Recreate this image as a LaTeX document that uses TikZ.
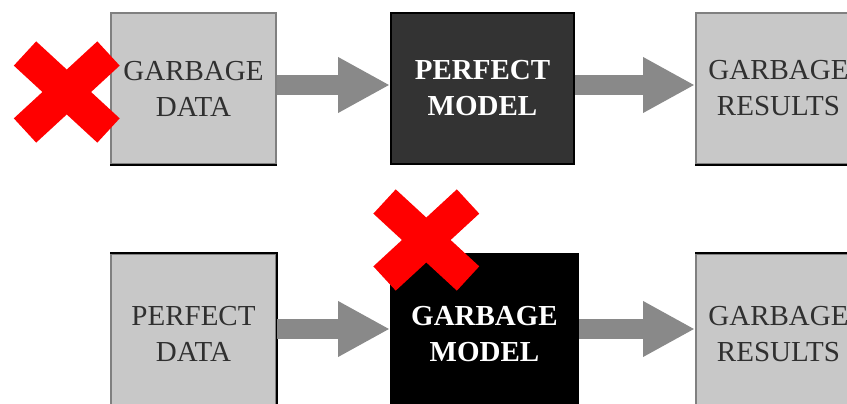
\documentclass[tikz,border=0pt]{standalone}
\usepackage{fontspec}
\setmainfont{Liberation Serif}
\usetikzlibrary{arrows.meta}
\definecolor{boxgray}{HTML}{C8C8C8}
\definecolor{edgegray}{HTML}{808080}
\definecolor{textgray}{HTML}{303030}
\definecolor{darkfill}{HTML}{333333}
\definecolor{arrowgray}{HTML}{898989}
\definecolor{crossred}{HTML}{FF0000}
\begin{document}
\begin{tikzpicture}[x=1pt,y=-1pt,
  box/.style={rectangle, inner sep=0pt, anchor=north west, align=center,
    line width=2pt, font=\fontsize{29}{36}\selectfont},
  lightbox/.style={box, fill=boxgray, draw=edgegray, text=textgray,
    minimum width=165pt},
  darkbox/.style={box, draw=black, text=white,
    font=\fontsize{29}{36}\selectfont\bfseries},
  flow/.style={draw=arrowgray, line width=20pt,
    -{Triangle[length=52pt,width=52pt]}},
  crossbar/.style={draw=crossred, line width=33pt, line cap=butt},
  blackedge/.style={draw=black, line width=2pt}
]
\useasboundingbox (0,0) rectangle (847,404);
\clip (0,0) rectangle (847,404);

% upper chain
\node[lightbox, minimum height=151pt] (gd) at (110,12) {GARBAGE\\DATA};
\node[darkbox, fill=darkfill, minimum width=183pt, minimum height=151pt] (pm) at (390,12) {PERFECT\\MODEL};
\node[lightbox, minimum height=151pt] (gr1) at (695,12) {GARBAGE\\RESULTS};
\draw[blackedge] (gd.south west) -- (gd.south east);
\draw[blackedge] (gr1.south west) -- (gr1.south east);
\draw[flow] ([yshift=3.5pt]gd.east) -- ([yshift=3.5pt]pm.west);
\draw[flow] ([yshift=3.5pt]pm.east) -- ([yshift=3.5pt]gr1.west);

% lower chain
\node[lightbox, minimum height=160pt] (pd) at (110,253) {PERFECT\\DATA};
\node[darkbox, fill=black, minimum width=187pt, minimum height=160pt] (gm) at (390,253) {GARBAGE\\MODEL};
\node[lightbox, minimum height=160pt] (gr2) at (695,253) {GARBAGE\\RESULTS};
\draw[blackedge] (pd.north west) -- (pd.north east) -- (pd.south east);
\draw[blackedge] (gr2.north west) -- (gr2.north east);
\draw[flow] ([yshift=5pt]pd.east) -- ([yshift=5pt]gm.west);
\draw[flow] ([yshift=5pt]gm.east) -- ([yshift=5pt]gr2.west);

% red crosses
\coordinate (xa) at (66.75,92);
\coordinate (xb) at (426.3,240);
\foreach \c in {xa,xb}{
  \draw[crossbar] ([shift={(-41.75,-38.5)}]\c) -- ([shift={(41.75,38.5)}]\c);
  \draw[crossbar] ([shift={(41.75,-38.5)}]\c) -- ([shift={(-41.75,38.5)}]\c);
}
\end{tikzpicture}
\end{document}
